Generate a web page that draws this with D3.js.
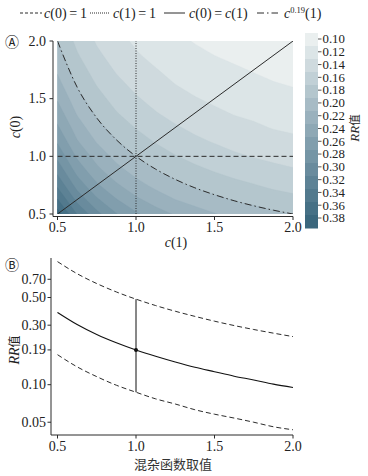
<!DOCTYPE html>
<html>
<head>
<meta charset="utf-8">
<script src="https://cdn.jsdelivr.net/npm/d3@7"></script>
<style>
  html, body { margin: 0; padding: 0; background: #fff; }
  svg { display: block; }
</style>
</head>
<body>
<svg id="chart" width="368" height="476"></svg>
<script>
// grid of c values used for both axes of panel A
const cGrid = [0.5, 0.625, 0.75, 0.875, 1.0, 1.125, 1.25, 1.375, 1.5, 1.625, 1.75, 1.875, 2.0];

// RR values, rows = c(0) (bottom to top), columns = c(1)
const rrGrid = [
  [0.380, 0.329, 0.296, 0.271, 0.253, 0.239, 0.228, 0.219, 0.211, 0.205, 0.199, 0.194, 0.190],
  [0.351, 0.304, 0.273, 0.251, 0.234, 0.221, 0.210, 0.202, 0.195, 0.189, 0.184, 0.179, 0.175],
  [0.326, 0.282, 0.253, 0.233, 0.217, 0.205, 0.195, 0.187, 0.181, 0.175, 0.171, 0.166, 0.163],
  [0.304, 0.263, 0.236, 0.217, 0.203, 0.191, 0.182, 0.175, 0.169, 0.164, 0.159, 0.155, 0.152],
  [0.285, 0.247, 0.222, 0.204, 0.190, 0.179, 0.171, 0.164, 0.158, 0.153, 0.149, 0.146, 0.143],
  [0.268, 0.232, 0.209, 0.192, 0.179, 0.169, 0.161, 0.154, 0.149, 0.144, 0.141, 0.137, 0.134],
  [0.253, 0.220, 0.197, 0.181, 0.169, 0.160, 0.152, 0.146, 0.141, 0.136, 0.133, 0.129, 0.127],
  [0.240, 0.208, 0.187, 0.171, 0.160, 0.151, 0.144, 0.138, 0.133, 0.129, 0.126, 0.123, 0.120],
  [0.228, 0.198, 0.177, 0.163, 0.152, 0.144, 0.137, 0.131, 0.127, 0.123, 0.119, 0.117, 0.114],
  [0.217, 0.188, 0.169, 0.155, 0.145, 0.137, 0.130, 0.125, 0.121, 0.117, 0.114, 0.111, 0.109],
  [0.207, 0.180, 0.161, 0.148, 0.138, 0.131, 0.124, 0.119, 0.115, 0.112, 0.109, 0.106, 0.104],
  [0.198, 0.172, 0.154, 0.142, 0.132, 0.125, 0.119, 0.114, 0.110, 0.107, 0.104, 0.101, 0.099],
  [0.190, 0.165, 0.148, 0.136, 0.127, 0.120, 0.114, 0.109, 0.106, 0.102, 0.100, 0.097, 0.095]
];

// c^0.19(1) curve: c(0) for each c(1) in cGrid
const iso019 = [2.0, 1.6, 1.333, 1.143, 1.0, 0.889, 0.8, 0.727, 0.667, 0.615, 0.571, 0.533, 0.5];

const barLabels = ["0.10", "0.12", "0.14", "0.16", "0.18", "0.20", "0.22", "0.24",
                   "0.26", "0.28", "0.30", "0.32", "0.34", "0.36", "0.38"];
const levelEdges = [0.09, 0.11, 0.13, 0.15, 0.17, 0.19, 0.21, 0.23, 0.25,
                    0.27, 0.29, 0.31, 0.33, 0.35, 0.37];

// panel B
const cValues = [0.5, 0.625, 0.75, 0.875, 1.0, 1.125, 1.25, 1.375, 1.5, 1.625, 1.75, 1.875, 2.0];
const rrMid   = [0.380, 0.304, 0.253, 0.217, 0.190, 0.169, 0.152, 0.138, 0.127, 0.117, 0.109, 0.101, 0.095];
const rrUpper = [0.970, 0.776, 0.647, 0.554, 0.485, 0.431, 0.388, 0.353, 0.323, 0.298, 0.277, 0.259, 0.243];
const rrLower = [0.174, 0.139, 0.116, 0.099, 0.087, 0.077, 0.070, 0.063, 0.058, 0.054, 0.050, 0.046, 0.0435];
const errC = 1.0, errLow = 0.087, errHigh = 0.485, errMid = 0.19;
const bTicks = [0.05, 0.10, 0.19, 0.30, 0.50, 0.70];
const axTicks = [0.5, 1.0, 1.5, 2.0];

const SERIF = "'Liberation Serif', 'Times New Roman', serif";
const CJK = "'Noto Sans CJK SC', sans-serif";

const svg = d3.select("#chart")
  .attr("font-family", SERIF)
  .style("font-family", SERIF);
const ink = "#2b2b2b";
const textInk = "#222";
const bandColor = i => d3.interpolateRgbBasis(["#eaefef", "#8ba6b4", "#3b677d"])(i / 14);

function addText(sel, x, y, size) {
  return sel.append("text").attr("x", x).attr("y", y)
    .attr("font-size", size).attr("fill", textInk)
    .style("font-family", SERIF);
}

// ---------- legend ----------
const leg = svg.append("g");
function legLine(x1, x2, dash) {
  leg.append("line").attr("x1", x1).attr("x2", x2).attr("y1", 13).attr("y2", 13)
    .attr("stroke", ink).attr("stroke-width", 1).attr("stroke-dasharray", dash);
}
function legText(x, parts) {
  const t = addText(leg, x, 17.5, 14);
  parts.forEach(p => {
    const s = t.append("tspan").text(p[0]);
    if (p[1] === "i") s.attr("font-style", "italic");
    if (p[1] === "sup") s.attr("font-size", 8.5).attr("dy", -5);
    if (p[1] === "down") s.attr("dy", 5);
  });
}
legLine(20, 42, "3,2");
legText(44, [["c", "i"], ["(0)\u2009=\u20091"]]);
legLine(90, 110, "1,1");
legText(113, [["c", "i"], ["(1)\u2009=\u20091"]]);
legLine(164, 185, null);
legText(189, [["c", "i"], ["(0)\u2009=\u2009"], ["c", "i"], ["(1)"]]);
legLine(257, 278, "7,3,1.5,3");
legText(284, [["c", "i"], ["0.19", "sup"], ["(1)", "down"]]);

// ---------- panel A ----------
const xA = d3.scaleLinear().domain([0.5, 2.0]).range([57.5, 293]);
const yA = d3.scaleLinear().domain([0.5, 2.0]).range([214, 41]);

svg.append("clipPath").attr("id", "clipA")
  .append("rect").attr("x", xA(0.5)).attr("y", yA(2.0))
  .attr("width", xA(2.0) - xA(0.5)).attr("height", yA(0.5) - yA(2.0));

const n = cGrid.length;
const flat = [];
for (let j = 0; j < n; j++) for (let i = 0; i < n; i++) flat.push(rrGrid[j][i]);

const contours = d3.contours().size([n, n]).thresholds(levelEdges)(flat);
const gx = d3.scaleLinear().domain([0.5, n - 0.5]).range([xA(cGrid[0]), xA(cGrid[n - 1])]);
const gy = d3.scaleLinear().domain([0.5, n - 0.5]).range([yA(cGrid[0]), yA(cGrid[n - 1])]);
const proj = d3.geoTransform({
  point: function (x, y) { this.stream.point(gx(x), gy(y)); }
});
const gA = svg.append("g").attr("clip-path", "url(#clipA)");
gA.selectAll("path.band").data(contours).enter().append("path")
  .attr("d", d3.geoPath(proj))
  .attr("fill", (d, i) => bandColor(i))
  .attr("stroke", (d, i) => bandColor(i)).attr("stroke-width", 0.3);

// reference lines
gA.append("line").attr("x1", xA(0.5)).attr("x2", xA(2.0)).attr("y1", yA(1)).attr("y2", yA(1))
  .attr("stroke", ink).attr("stroke-dasharray", "5,3").attr("stroke-width", 1);
gA.append("line").attr("x1", xA(1)).attr("x2", xA(1)).attr("y1", yA(0.5)).attr("y2", yA(2.0))
  .attr("stroke", ink).attr("stroke-dasharray", "1,1.5").attr("stroke-width", 1);
gA.append("line").attr("x1", xA(0.5)).attr("x2", xA(2.0)).attr("y1", yA(0.5)).attr("y2", yA(2.0))
  .attr("stroke", ink).attr("stroke-width", 1);
gA.append("path")
  .attr("d", d3.line().x((d, i) => xA(cGrid[i])).y(d => yA(d)).curve(d3.curveMonotoneX)(iso019))
  .attr("fill", "none").attr("stroke", ink).attr("stroke-width", 1)
  .attr("stroke-dasharray", "7,3,1.5,3");

// axes A
const axA = svg.append("g").attr("stroke", ink).attr("stroke-width", 1);
axA.append("line").attr("x1", 53).attr("x2", 53).attr("y1", yA(2.0)).attr("y2", 216.5);
axA.append("line").attr("x1", 53).attr("x2", xA(2.0)).attr("y1", 216.5).attr("y2", 216.5);
axTicks.forEach(v => {
  axA.append("line").attr("x1", 49.5).attr("x2", 53).attr("y1", yA(v)).attr("y2", yA(v));
  axA.append("line").attr("x1", xA(v)).attr("x2", xA(v)).attr("y1", 216.5).attr("y2", 220);
  addText(svg, 46, yA(v) + 4.5, 14).attr("text-anchor", "end").text(v.toFixed(1));
  addText(svg, xA(v), 232, 14).attr("text-anchor", "middle").text(v.toFixed(1));
});

const lblA = addText(svg, 0, 0, 14).attr("transform", "translate(20,127) rotate(-90)")
  .attr("text-anchor", "middle");
lblA.append("tspan").attr("font-style", "italic").text("c");
lblA.append("tspan").text("(0)");
const lblAx = addText(svg, 176, 247, 14).attr("text-anchor", "middle");
lblAx.append("tspan").attr("font-style", "italic").text("c");
lblAx.append("tspan").text("(1)");
addText(svg, 5, 47, 14).style("font-family", CJK).text("Ⓐ");

// colorbar
const yBar = d3.scaleBand().domain(barLabels.slice()).range([33, 228]);
const yBarLab = d3.scalePoint().domain(barLabels.slice()).range([39, 218]);
svg.selectAll("rect.bar").data(barLabels).enter().append("rect")
  .attr("x", 305).attr("width", 13)
  .attr("y", d => yBar(d)).attr("height", yBar.bandwidth() + 0.5)
  .attr("fill", (d, i) => bandColor(i));
barLabels.forEach(d => {
  svg.append("line").attr("x1", 318).attr("x2", 321.5)
    .attr("y1", yBarLab(d)).attr("y2", yBarLab(d))
    .attr("stroke", ink).attr("stroke-width", 0.8);
  addText(svg, 322.5, yBarLab(d) + 4.3, 12.8).text(d);
});
const barTitle = addText(svg, 0, 0, 13).attr("transform", "translate(359,128) rotate(-90)")
  .attr("text-anchor", "middle");
barTitle.append("tspan").attr("font-style", "italic").text("RR");
barTitle.append("tspan").style("font-family", CJK).attr("font-size", 11.5).text("值");

// ---------- panel B ----------
const xB = d3.scaleLinear().domain([0.5, 2.0]).range([57.5, 293]);
const yB = d3.scaleLog().domain([0.0395, 1.037]).range([435, 258]);

const lineB = arr => d3.line().x((d, i) => xB(cValues[i])).y(d => yB(d)).curve(d3.curveMonotoneX)(arr);
svg.append("path").attr("d", lineB(rrUpper)).attr("fill", "none")
  .attr("stroke", ink).attr("stroke-width", 1).attr("stroke-dasharray", "5,3");
svg.append("path").attr("d", lineB(rrLower)).attr("fill", "none")
  .attr("stroke", ink).attr("stroke-width", 1).attr("stroke-dasharray", "5,3");
svg.append("path").attr("d", lineB(rrMid)).attr("fill", "none")
  .attr("stroke", "#111").attr("stroke-width", 1.1);
svg.append("line").attr("x1", xB(errC)).attr("x2", xB(errC))
  .attr("y1", yB(errLow)).attr("y2", yB(errHigh)).attr("stroke", "#111").attr("stroke-width", 1);
svg.append("circle").attr("cx", xB(errC)).attr("cy", yB(errMid)).attr("r", 2).attr("fill", "#111");

const axB = svg.append("g").attr("stroke", ink).attr("stroke-width", 1);
axB.append("line").attr("x1", 51).attr("x2", 51).attr("y1", 258).attr("y2", 435);
axB.append("line").attr("x1", 51).attr("x2", xB(2.0)).attr("y1", 435).attr("y2", 435);
bTicks.forEach(v => {
  axB.append("line").attr("x1", 47.5).attr("x2", 51).attr("y1", yB(v)).attr("y2", yB(v));
  addText(svg, 46, yB(v) + 4.5, 14).attr("text-anchor", "end").text(v.toFixed(2));
});
axTicks.forEach(v => {
  axB.append("line").attr("x1", xB(v)).attr("x2", xB(v)).attr("y1", 435).attr("y2", 438.5);
  addText(svg, xB(v), 451, 14).attr("text-anchor", "middle").text(v.toFixed(1));
});
addText(svg, 173, 469, 13).attr("text-anchor", "middle")
  .style("font-family", CJK).attr("fill", "#333").text("混杂函数取值");
const lblB = addText(svg, 0, 0, 14).attr("transform", "translate(19,350) rotate(-90)")
  .attr("text-anchor", "middle");
lblB.append("tspan").attr("font-style", "italic").text("RR");
lblB.append("tspan").style("font-family", CJK).attr("font-size", 12).text("值");
addText(svg, 5, 270, 14).style("font-family", CJK).text("Ⓑ");
</script>
</body>
</html>
